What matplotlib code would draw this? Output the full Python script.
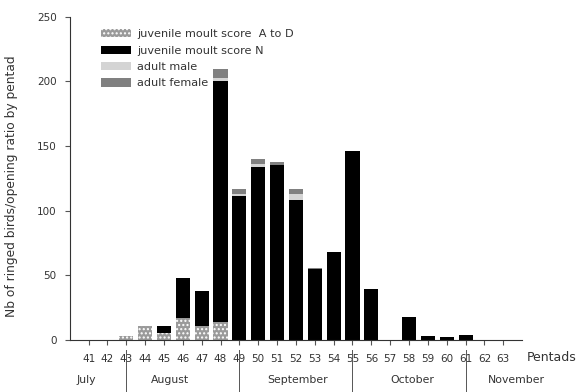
import matplotlib
matplotlib.use("Agg")
import matplotlib.pyplot as plt
import matplotlib.transforms as mtransforms
from matplotlib.patches import Patch

plt.rcParams['font.family'] = ['DejaVu Sans']
plt.rcParams['hatch.linewidth'] = 1.0

# Data
pentads = list(range(41, 64))
juv_a_to_d = [0, 0, 3, 11, 5, 17, 11, 14, 0, 0, 0, 0, 0, 0, 0, 0, 0, 0, 0, 0, 0, 0, 0]
juv_n = [0, 0, 0, 0, 6, 31, 27, 186, 111, 134, 135, 108, 55, 68, 146, 39, 0, 18, 3, 2.5, 3.5, 0, 0]
adult_male = [0, 0, 0, 0, 0, 0, 0, 3, 2, 2, 0, 5, 0, 0, 0, 0, 0, 0, 0, 0, 0, 0, 0]
adult_female = [0, 0, 0, 0, 0, 0, 0, 7, 4, 4, 3, 4, 1, 0, 0, 0, 0, 0, 0, 0, 0, 0, 0]

months = ["July", "August", "September", "October", "November"]
month_centers = [40.9, 45.3, 52.1, 58.2, 63.7]
month_bounds = [43, 49, 55, 61]

series_labels = ["juvenile moult score  A to D", "juvenile moult score N", "adult male", "adult female"]

fig = plt.figure(figsize=(5.86, 3.92), dpi=100)
ax = fig.add_axes([0.119, 0.133, 0.772, 0.824])

w = 0.75
bottom = [0] * len(pentads)
ax.bar(pentads, juv_a_to_d, w, bottom=bottom, color='#9a9a9a', edgecolor='white', hatch='....', linewidth=0)
bottom = [a + b for a, b in zip(bottom, juv_a_to_d)]
ax.bar(pentads, juv_n, w, bottom=bottom, color='black', linewidth=0)
bottom = [a + b for a, b in zip(bottom, juv_n)]
ax.bar(pentads, adult_male, w, bottom=bottom, color='#d4d4d4', linewidth=0)
bottom = [a + b for a, b in zip(bottom, adult_male)]
ax.bar(pentads, adult_female, w, bottom=bottom, color='#808080', linewidth=0)

ax.set_xlim(40, 64)
ax.set_ylim(0, 250)
ax.set_yticks([0, 50, 100, 150, 200, 250])
ax.set_xticks(pentads)
ax.set_xticklabels([str(p) for p in pentads])
ax.tick_params(axis='both', labelsize=7.5, length=3.5, color='#555555', labelcolor='#333333')
ax.tick_params(axis='x', pad=7)
ax.tick_params(axis='y', pad=6)
for s in ['top', 'right']:
    ax.spines[s].set_visible(False)
for s in ['left', 'bottom']:
    ax.spines[s].set_color('#333333')
    ax.spines[s].set_linewidth(0.8)

ax.set_ylabel("Nb of ringed birds/opening ratio by pentad", fontsize=8.8, color='#333333')
ax.yaxis.set_label_coords(-0.114, 0.477)

# month labels and separators
trans = mtransforms.blended_transform_factory(ax.transData, ax.transAxes)
for m, c in zip(months, month_centers):
    ax.text(c, -0.124, m, transform=trans, ha='center', va='center', fontsize=7.8, color='#333333')
for b in month_bounds:
    ax.plot([b, b], [-0.031, -0.17], transform=trans, color='#555555', lw=0.7, clip_on=False)

ax.text(1.01, -0.055, "Pentads", transform=ax.transAxes, ha='left', va='center', fontsize=9, color='#333333')

handles = [
    Patch(facecolor='#9a9a9a', edgecolor='white', hatch='....', linewidth=0),
    Patch(facecolor='black'),
    Patch(facecolor='#d4d4d4'),
    Patch(facecolor='#808080'),
]
ax.legend(handles, series_labels, loc='upper left', bbox_to_anchor=(0.05, 0.99), frameon=False,
          fontsize=8.1, handlelength=2.6, handleheight=0.75, labelspacing=0.57, handletextpad=0.6,
          labelcolor='#333333', borderpad=0.3)

fig.savefig("out.png", dpi=100)
